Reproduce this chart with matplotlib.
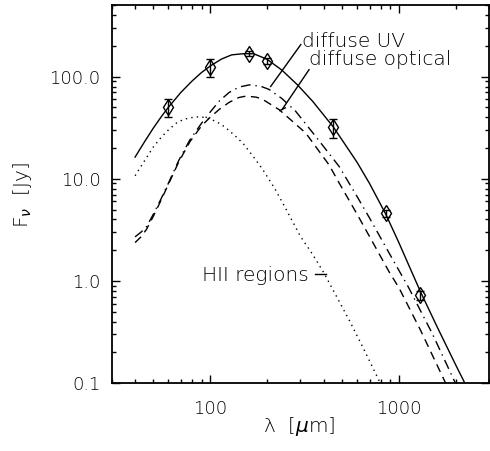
import numpy as np
import matplotlib
matplotlib.use("Agg")
import matplotlib.pyplot as plt
from matplotlib.ticker import FixedLocator, FixedFormatter, LogLocator, NullFormatter
from matplotlib import font_manager

# ---- data ----
obs_wave = [60, 100, 160, 200, 450, 850, 1300]
obs_flux = [50, 125, 168, 143, 31.8, 4.6, 0.72]
obs_err = [10, 25, 10, 10, 6.5, 0.35, 0.07]

total_wave = [40, 45, 50, 55, 60, 70, 80, 90, 100, 115, 130, 150, 170, 200, 240, 290,
              350, 450, 600, 700, 850, 1000, 1150, 1300, 1600, 2000, 2400]
total_flux = [16.3, 23.2, 31.4, 40.4, 50, 70.2, 90.3, 109.8, 127, 149, 163.4, 167.8, 167.6,
              148, 115.7, 83.1, 57, 32, 14.5, 8.93, 4.53, 2.36, 1.31, 0.784, 0.349, 0.15,
              0.0765]

uv_wave = [40, 43, 46, 50, 55, 60, 68, 78, 90, 100, 112, 126, 142, 161, 185, 205, 240,
           284, 362, 482, 600, 700, 886, 1127, 1500, 2000, 2100]
uv_flux = [2.7, 3.0, 3.4, 4.5, 6.4, 9.0, 15, 24, 35, 45, 58, 70, 79, 83, 80.5, 75, 61,
           45.7, 26, 13.2, 6.7, 4.1, 1.88, 0.856, 0.306, 0.098, 0.083]

opt_wave = [40, 43, 46, 50, 55, 60, 68, 78, 90, 100, 112, 126, 142, 155, 175, 188, 232,
            321, 426, 482, 600, 700, 886, 1000, 1300, 1766, 1850]
opt_flux = [2.37, 2.7, 3.2, 4.3, 6.2, 8.8, 14.5, 23, 33, 40, 48, 56, 62.5, 64.5, 63, 60.5,
            47.5, 28, 13.7, 9.1, 4.5, 2.7, 1.23, 0.856, 0.33, 0.1, 0.085]

hii_wave = [40, 45, 50, 55, 60, 66, 72, 78, 85, 92, 100, 110, 120, 135, 150, 170, 190,
            220, 250, 300, 350, 400, 450, 550, 650, 800, 830]
hii_flux = [10.7, 15.1, 20.5, 25.5, 30, 35, 38, 39.5, 40.3, 40, 38.5, 35.5, 32, 26.5, 22,
            16.3, 12.3, 8, 5.2, 2.75, 1.8, 1.2, 0.8, 0.4, 0.216, 0.098, 0.088]

xticks = [100, 1000]
xticklabels = ["100", "1000"]
yticks = [0.1, 1, 10, 100]
yticklabels = ["0.1", "1.0", "10.0", "100.0"]

plt.rcParams['font.family'] = ['DejaVu Sans']
plt.rcParams['font.weight'] = 'light'
plt.rcParams['mathtext.fontset'] = 'dejavusans'

fig = plt.figure(figsize=(4.9, 4.51), dpi=100)
ax = fig.add_axes([111.5 / 490, 68 / 451, 377.5 / 490, 378 / 451])
ax.set_xscale('log')
ax.set_yscale('log')
ax.set_xlim(30, 3000)
ax.set_ylim(0.1, 503)

lw = 1.0
ax.plot(total_wave, total_flux, color='black', lw=lw, ls='-')
ax.plot(uv_wave, uv_flux, color='black', lw=lw, ls=(0, (7, 3.5, 1, 3.5)))
ax.plot(opt_wave, opt_flux, color='black', lw=lw, ls=(0, (6, 4)))
ax.plot(hii_wave, hii_flux, color='black', lw=lw, ls=(0, (1, 3)))

ax.errorbar(obs_wave, obs_flux, yerr=obs_err, fmt='d', ms=8, mfc='none', mec='black',
            mew=1.0, ecolor='black', elinewidth=1.0, capsize=3.2, capthick=1.0)

# labels and leaders
fs = 14.5
ax.text(305, 197, "diffuse UV", fontsize=fs, ha='left', va='baseline')
ax.text(332, 131, "diffuse optical", fontsize=fs, ha='left', va='baseline')
ax.text(91, 1.0, "HII regions", fontsize=fs, ha='left', va='baseline')
ax.plot([302, 209], [206, 80], color='black', lw=1.0)
ax.plot([334, 241], [117, 48], color='black', lw=1.0)
ax.plot([234, 250], [46.5, 49.5], color='black', lw=1.0)
ax.plot([357, 411], [1.17, 1.17], color='black', lw=1.0)

# ticks
for spine in ax.spines.values():
    spine.set_linewidth(1.3)
ax.xaxis.set_major_locator(FixedLocator(xticks))
ax.xaxis.set_major_formatter(FixedFormatter(xticklabels))
ax.xaxis.set_minor_locator(LogLocator(base=10, subs=np.arange(2, 10)))
ax.xaxis.set_minor_formatter(NullFormatter())
ax.yaxis.set_major_locator(FixedLocator(yticks))
ax.yaxis.set_major_formatter(FixedFormatter(yticklabels))
ax.yaxis.set_minor_locator(LogLocator(base=10, subs=np.arange(2, 10)))
ax.yaxis.set_minor_formatter(NullFormatter())
ax.tick_params(which='both', direction='in', top=True, right=True, width=1.0)
ax.tick_params(which='major', length=5.8)
ax.tick_params(which='minor', length=2.9)
ax.tick_params(axis='x', which='major', pad=12, labelsize=13)
ax.tick_params(axis='y', which='major', pad=8, labelsize=13)

fig.text(23 / 490, 1 - 195 / 451, r"F$_\nu$  [Jy]", rotation=90, ha='center', va='center',
         fontsize=14.5)
fig.text(299 / 490, 1 - 426 / 451, r"λ  [$\mu$m]", ha='center', va='center', fontsize=14.5)

fig.savefig("out.png", dpi=100)
